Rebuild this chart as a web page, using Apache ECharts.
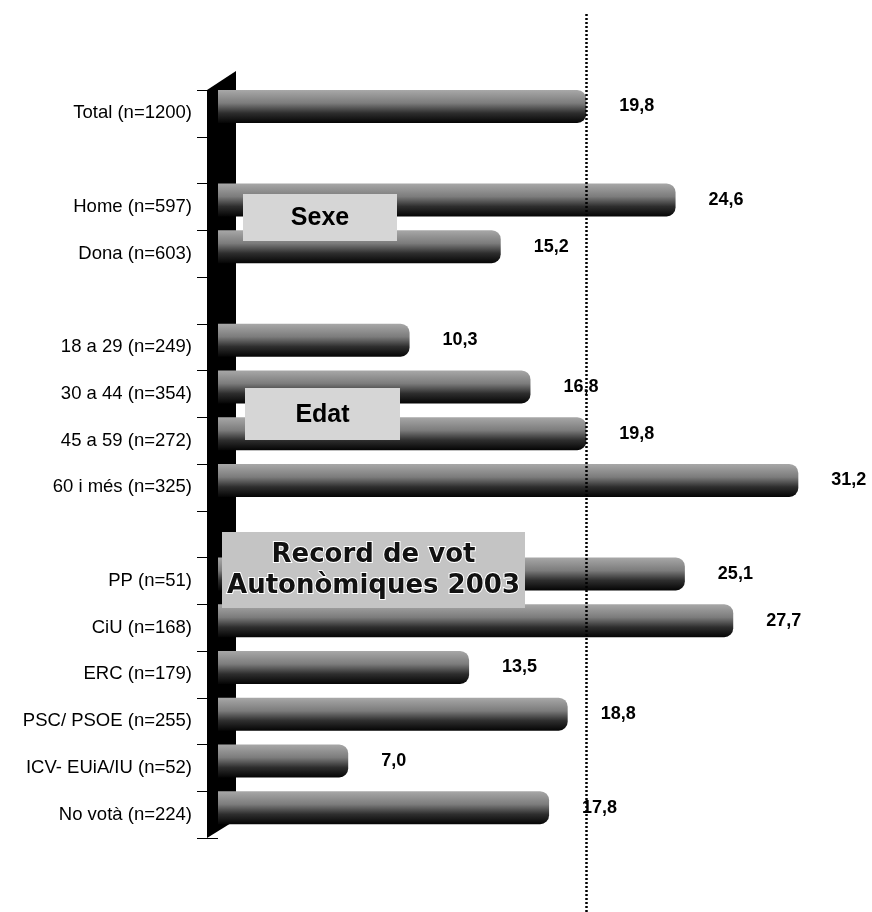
<!DOCTYPE html>
<html>
<head>
<meta charset="utf-8">
<script src="https://cdn.jsdelivr.net/npm/echarts@6/dist/echarts.min.js"></script>
<style>
  html, body { margin: 0; padding: 0; background: #fff; }
  #chart { width: 872px; height: 912px; }
</style>
</head>
<body>
<div id="chart"></div>
<script>
// categories (blank rows kept as distinct blanks)
const categories = [
    'Total (n=1200)', ' ',
    'Home (n=597)', 'Dona (n=603)', '  ',
    '18 a 29 (n=249)', '30 a 44 (n=354)', '45 a 59 (n=272)', '60 i més (n=325)', '   ',
    'PP (n=51)', 'CiU (n=168)', 'ERC (n=179)', 'PSC/ PSOE (n=255)', 'ICV- EUiA/IU (n=52)', 'No votà (n=224)'
];
const values = [19.8, null, 24.6, 15.2, null, 10.3, 16.8, 19.8, 31.2, null, 25.1, 27.7, 13.5, 18.8, 7.0, 17.8];
const refValue = 19.8;
const groupBoxes = ['Sexe', 'Edat', 'Record de vot\nAutonòmiques 2003'];

const chart = echarts.init(document.getElementById('chart'));

const barColor = new echarts.graphic.LinearGradient(0, 0, 0, 1, [
    { offset: 0, color: '#a8a8a8' },
    { offset: 0.4, color: '#7c7c7c' },
    { offset: 0.7, color: '#2e2e2e' },
    { offset: 1, color: '#050505' }
]);

// caixa gris amb el text del grup
function groupBox(left, top, w, h, text, font, extra) {
    return {
        type: 'group', left: left, top: top,
        children: [
            { type: 'rect', z: 20, shape: { width: w, height: h }, style: { fill: extra.fill } },
            {
                type: 'text', z: 21, x: w / 2, y: h / 2 + 1,
                style: Object.assign({
                    text: text, align: 'center', verticalAlign: 'middle', fill: '#000', font: font
                }, extra.text || {})
            }
        ]
    };
}

const option = {
    animation: false,
    grid: [
        { left: 218, right: 3, top: 90, bottom: 74 },
        { left: 218, right: 3, top: 13, bottom: 0 }
    ],
    xAxis: [
        { gridIndex: 0, type: 'value', min: 0, max: 35, show: false },
        { gridIndex: 1, type: 'value', min: 0, max: 35, show: false }
    ],
    yAxis: [
        {
            gridIndex: 0,
            type: 'category',
            data: categories,
            inverse: true,
            axisLine: { show: false },
            axisTick: { show: true, length: 21, lineStyle: { color: '#000', width: 1 } },
            axisLabel: {
                margin: 26,
                color: '#000',
                fontFamily: 'Liberation Sans',
                fontSize: 18.5
            }
        },
        { gridIndex: 1, type: 'category', data: ['x'], show: false }
    ],
    series: [
        {
            type: 'bar',
            xAxisIndex: 0,
            yAxisIndex: 0,
            data: values,
            barWidth: 33,
            barGap: '0%',
            z: 3,
            itemStyle: {
                color: barColor,
                borderRadius: [0, 9, 9, 0]
            },
            label: {
                show: true,
                position: 'right',
                distance: 33,
                color: '#000',
                fontFamily: 'Liberation Sans',
                fontWeight: 'bold',
                fontSize: 18,
                formatter: p => p.value == null ? '' : p.value.toFixed(1).replace('.', ',')
            }
        },
        {
            // buit, només per pujar les barres dins de cada fila
            type: 'bar',
            xAxisIndex: 0,
            yAxisIndex: 0,
            data: values.map(() => null),
            barWidth: 14,
            silent: true
        },
        {
            type: 'line',
            xAxisIndex: 1,
            yAxisIndex: 1,
            data: [],
            z: 1,
            markLine: {
                silent: true,
                symbol: 'none',
                label: { show: false },
                lineStyle: { color: '#000', type: [2, 2], width: 2.5 },
                data: [{ xAxis: refValue }]
            }
        }
    ],
    graphic: [
        {
            // paret 3D darrere les barres
            type: 'polygon',
            z: 2,
            shape: { points: [[207, 90], [236, 71], [236, 820], [207, 838]] },
            style: { fill: '#000' }
        },
        groupBox(243, 194, 154, 47, groupBoxes[0], 'bold 25px "Liberation Sans"', { fill: '#d6d6d6' }),
        groupBox(245, 388, 155, 52, groupBoxes[1], 'bold 25px "Liberation Sans"', { fill: '#d6d6d6' }),
        groupBox(222, 532, 303, 76, groupBoxes[2], 'bold 26px "DejaVu Sans"', {
            fill: '#c4c4c4',
            text: { lineHeight: 31, fill: '#111', stroke: '#fff', lineWidth: 2 }
        })
    ]
};

chart.setOption(option);
</script>
</body>
</html>
